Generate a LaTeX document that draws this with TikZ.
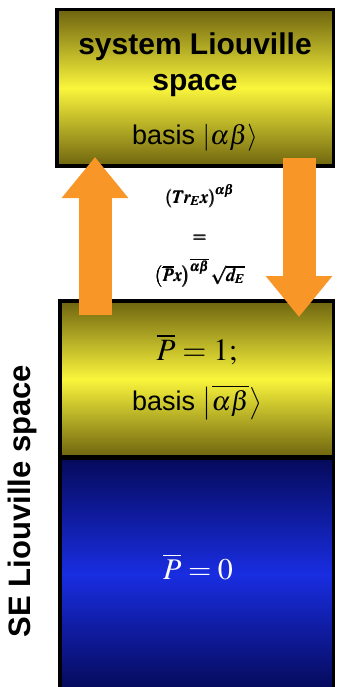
\documentclass[tikz,border=0pt]{standalone}
\usepackage{amsmath}
\usepackage{mathptmx}
\usepackage[no-math]{fontspec}
\setmainfont{Liberation Sans}
\usepackage{tikz}
\usetikzlibrary{arrows.meta,positioning}
\definecolor{oliveDark}{RGB}{110,100,15}
\definecolor{liouYellow}{RGB}{250,245,60}
\definecolor{navyDark}{RGB}{5,10,90}
\definecolor{liouBlue}{RGB}{25,45,225}
\definecolor{arrowOrange}{RGB}{248,150,40}
\tikzset{
  spacebox/.style={
    rectangle, draw=black, line width=3.5pt, inner sep=0pt
  },
  yellowshade/.style={top color=oliveDark, bottom color=oliveDark, middle color=liouYellow},
  blueshade/.style={top color=navyDark, bottom color=navyDark, middle color=liouBlue},
  bigArrow/.style={line width=33pt, draw=arrowOrange, -{Triangle[width=64pt,length=41pt]}}
}

\begin{document}
\begin{tikzpicture}[x=1pt, y=-1pt,
        lbl/.style={align=center, inner sep=0pt}]
        \useasboundingbox (0,0) rectangle (338,687);
        % the three spaces
        \node[spacebox, yellowshade, minimum width=276.5pt, minimum height=156.5pt] (sysbox) at (195,88) {};
        \node[spacebox, yellowshade, minimum width=273.5pt, minimum height=156pt] (onebox) at (196.5,379) {};
        \node[spacebox, blueshade, minimum width=273.5pt, minimum height=232pt] (zerobox) at (196.5,574) {};
        % up and down
        \coordinate (upfoot) at (95,315);
        \coordinate (uptip) at (95,157);
        \coordinate (downfoot) at (299,158);
        \coordinate (downtip) at (299,317);
        \draw[bigArrow] (upfoot) -- (uptip);
        \draw[bigArrow] (downfoot) -- (downtip);
        % texts
        \node[lbl, font=\bfseries\fontsize{30}{36}\selectfont] (systitle) at (195,65) {system Liouville\\space};
        \node[lbl, font=\fontsize{27}{30}\selectfont] (sysbasis) at (195,138) {basis $\left|\alpha\beta\right\rangle$};
        \node[lbl, font=\fontsize{18}{39}\selectfont] (trace) at (200,236)
              {$\pmb{\left(Tr_E x\right)^{\alpha\beta}}$\\$\pmb{=}$\\$\pmb{\left(\overline{P}x\right)^{\overline{\alpha\beta}}\sqrt{d_E}}$};
        \node[lbl, font=\fontsize{27}{50}\selectfont] (onetext) at (197,377)
              {{\fontsize{31}{50}\selectfont$\overline{P}=1;$}\\basis $\bigl|\overline{\alpha\beta}\bigr\rangle$};
        \node[lbl, font=\fontsize{30}{34}\selectfont, text=white] (pzero) at (198,567) {$\overline{P}=0$};
        \node[lbl, rotate=90, font=\bfseries\fontsize{31}{34}\selectfont] (selabel) at (22,501) {SE Liouville space};
      \end{tikzpicture}
\end{document}
